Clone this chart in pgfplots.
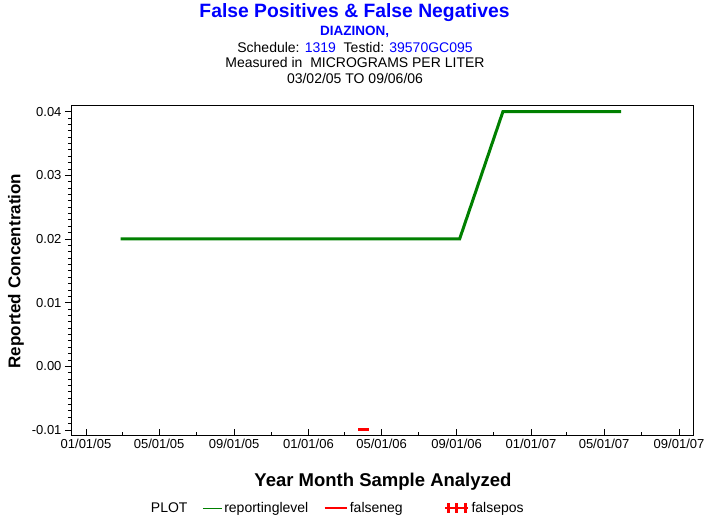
\documentclass[border=0pt]{standalone}
\usepackage{pgfplots}
\pgfplotsset{compat=1.18}
\usepackage{fontspec}
\setmainfont{Liberation Sans}
\definecolor{sasblue}{RGB}{0,0,255}
\definecolor{sasgreen}{RGB}{0,128,0}

\begin{document}
\begin{tikzpicture}
\useasboundingbox (-71bp,-88bp) rectangle (642bp,435bp);
\begin{axis}[at={(0,0)},anchor=south west,scale only axis,width=622bp,height=330bp,
  xmin=-24.6,xmax=995.9,ymin=-0.01079,ymax=0.04105,
  axis line style={line width=0.9bp},
  xtick={0,120,243,365,485,608,730,850,973},
  xticklabels={01/01/05,05/01/05,09/01/05,01/01/06,05/01/06,09/01/06,01/01/07,05/01/07,09/01/07},
  minor xtick={59,181,304,424,546,669,789,911},
  ytick={-0.01,0,0.01,0.02,0.03,0.04},
  minor ytick={-0.009,-0.008,-0.007,-0.006,-0.005,-0.004,-0.003,-0.002,-0.001,
    0.001,0.002,0.003,0.004,0.005,0.006,0.007,0.008,0.009,
    0.011,0.012,0.013,0.014,0.015,0.016,0.017,0.018,0.019,
    0.021,0.022,0.023,0.024,0.025,0.026,0.027,0.028,0.029,
    0.031,0.032,0.033,0.034,0.035,0.036,0.037,0.038,0.039},
  scaled y ticks=false,
  xtick pos=bottom,ytick pos=left,
  xtick align=inside,ytick align=outside,
  major tick length=6bp,minor tick length=3bp,
  tick style={black,line width=0.8bp},
  ticklabel style={font=\fontsize{13bp}{15bp}\selectfont},
  /pgf/number format/assume math mode=true,
  yticklabel style={/pgf/number format/fixed,/pgf/number format/fixed zerofill,/pgf/number format/precision=2},
  xticklabel style={yshift=-1bp},
  legend columns=4,
  legend style={draw=none,fill=none,at={(axis description cs:0.125,-0.221)},anchor=west,
    font=\fontsize{14bp}{16bp}\selectfont,inner sep=0pt,
    /tikz/every even column/.append style={column sep=13bp}},
  legend cell align=left]
\addlegendimage{empty legend}
\addlegendimage{legend image code/.code={\draw[sasgreen,line width=0.8bp] (0bp,0bp)--(19bp,0bp);}}
\addlegendimage{legend image code/.code={\draw[red,line width=2.5bp] (0bp,0bp)--(22bp,0bp);}}
\addlegendimage{legend image code/.code={\draw[red,line width=2.8bp] (0bp,0bp)--(23bp,0bp);
  \foreach \x in {3,11.5,20}{\draw[red,line width=2.8bp] (\x bp,-5bp)--(\x bp,5bp);}}}
\addplot[sasgreen,line width=3bp,forget plot] coordinates {(57,0.02) (613,0.02) (684,0.04) (878,0.04)};
\addplot[red,only marks,mark=-,mark size=5.5bp,mark options={line width=3bp},forget plot] coordinates {(455,-0.01)};
\legend{PLOT,reportinglevel,falseneg\hspace*{26bp},falsepos}
\end{axis}
\node[anchor=base,text=sasblue,font=\bfseries\fontsize{19.3bp}{22bp}\selectfont] at (283.5bp,417bp) {False Positives \& False Negatives};
\node[anchor=base,text=sasblue,font=\bfseries\fontsize{13.5bp}{15bp}\selectfont] at (283.5bp,399bp) {DIAZINON,};
\node[anchor=base,font=\fontsize{14bp}{16bp}\selectfont] at (284bp,382bp) {Schedule: \textcolor{sasblue}{1319}\ \ Testid: \textcolor{sasblue}{39570GC095}};
\node[anchor=base,font=\fontsize{14bp}{16bp}\selectfont] at (284bp,367bp) {Measured in\ \ MICROGRAMS PER LITER};
\node[anchor=base,font=\fontsize{14bp}{16bp}\selectfont] at (284bp,351bp) {03/02/05 TO 09/06/06};
\node[rotate=90,font=\bfseries\fontsize{17bp}{19bp}\selectfont] at (-55bp,164bp) {Reported Concentration};
\node[anchor=base,font=\bfseries\fontsize{18.5bp}{20bp}\selectfont] at (312bp,-51bp) {Year Month Sample Analyzed};
\end{tikzpicture}
\end{document}
